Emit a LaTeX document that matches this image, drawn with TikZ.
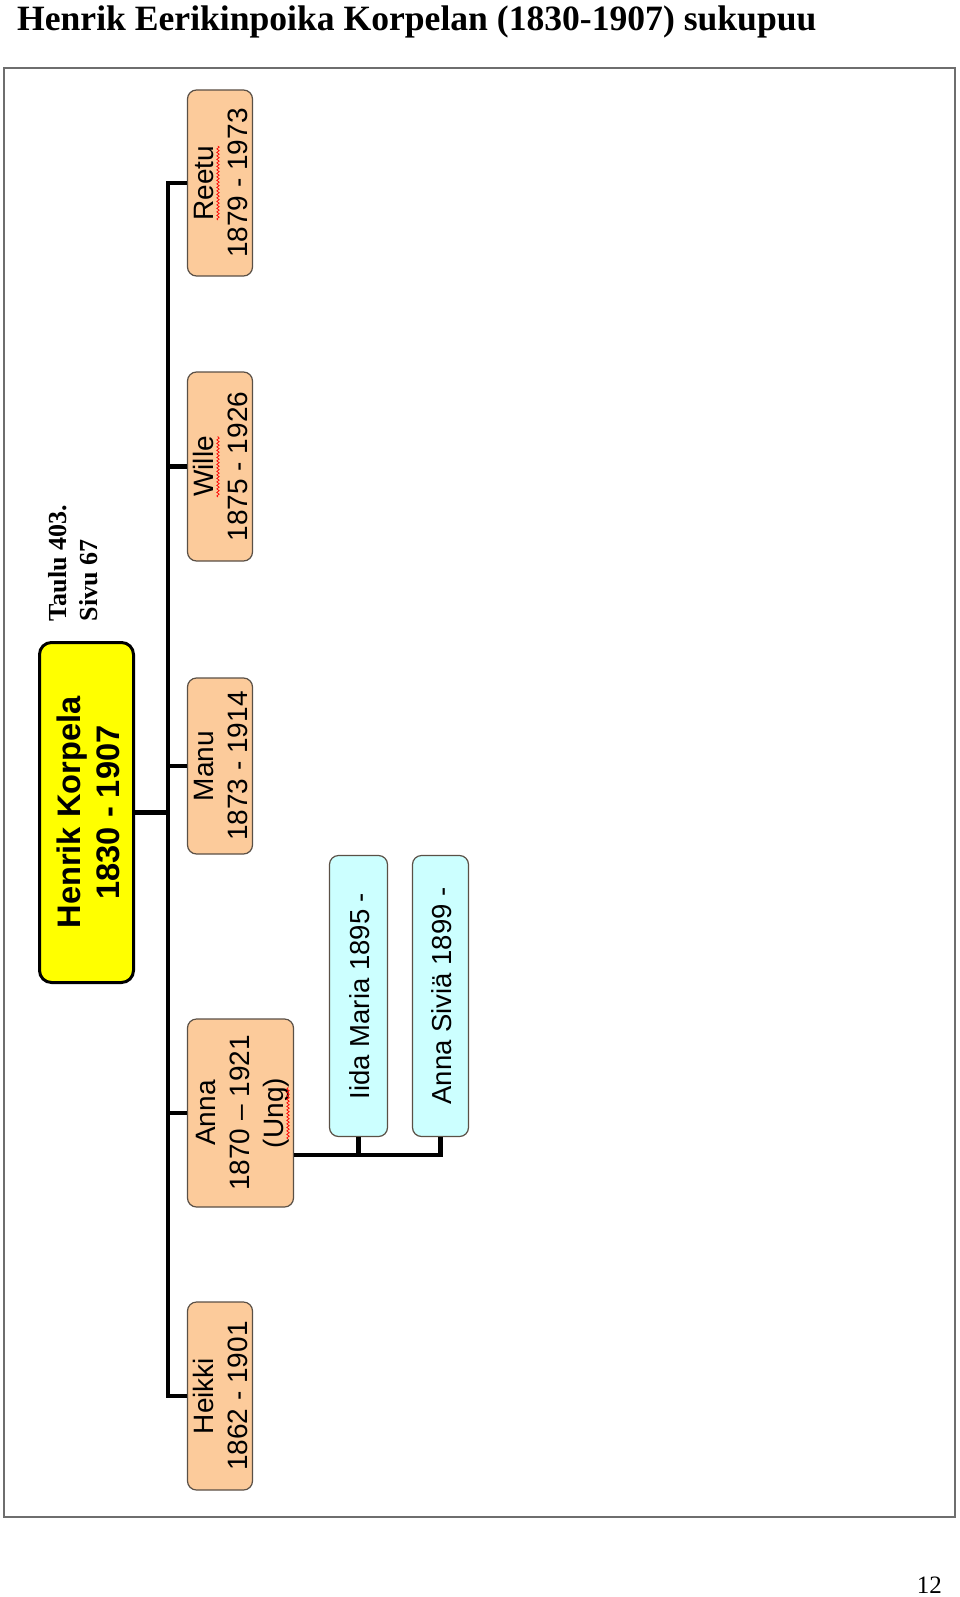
\documentclass[tikz,border=0pt]{standalone}
\usepackage{fontspec}
\setmainfont{Liberation Serif}
\setsansfont{Liberation Sans}
\usepackage{graphicx}
\usetikzlibrary{positioning, decorations.pathmorphing}
\definecolor{kpYellow}{HTML}{FFFF00}
\definecolor{kpPeach}{HTML}{FCCB9B}
\definecolor{kpCyan}{HTML}{CCFFFF}
\definecolor{kpEdge}{HTML}{5A5046}
\definecolor{kpFrame}{HTML}{6E6E6E}
\newcommand{\vlines}[2][-7pt]{\rotatebox{90}{\begin{tabular}{@{}c@{}}#2\end{tabular}}\kern#1}
\tikzset{
  link/.style      = {black, line width=4.5pt},
  pageframe/.style = {draw=kpFrame, line width=1.5pt},
  rootbox/.style   = {draw=black, line width=3pt, fill=kpYellow, rounded corners=12pt,
                      minimum width=94pt, minimum height=340pt, inner sep=0pt,
                      font=\sffamily\bfseries\fontsize{32.6}{40}\selectfont},
  kidbox/.style    = {draw=kpEdge, line width=1.2pt, fill=kpPeach, rounded corners=9pt,
                      minimum width=65pt, inner sep=0pt,
                      font=\sffamily\fontsize{28}{34}\selectfont},
  grandbox/.style  = {draw=kpEdge, line width=1.2pt, fill=kpCyan, rounded corners=9pt,
                      minimum height=281pt, inner sep=0pt,
                      font=\sffamily\fontsize{27.5}{33}\selectfont},
  spell/.style     = {red, line width=0.7pt, decorate,
                      decoration={snake, amplitude=1.2pt, segment length=3.5pt}},
}
\begin{document}
\begin{tikzpicture}[x=1pt, y=-1pt]
  \useasboundingbox (0,0) rectangle (960,1597);
  \node[anchor=base west, inner sep=0pt, font=\bfseries\fontsize{35.6}{40}\selectfont] (title)
    at (17,31) {Henrik Eerikinpoika Korpelan (1830-1907) sukupuu};
  \draw[pageframe] (4,68) rectangle (955,1517);

  \node[font=\bfseries\fontsize{26}{31}\selectfont] (taulu) at (76,563)
    {\rotatebox{90}{\begin{tabular}{@{}l@{}}Taulu 403.\\Sivu 67\end{tabular}}};

  \node[rootbox] (henrik) at (86.5,812.5) {\vlines[-11pt]{Henrik Korpela\\1830 - 1907}};
  \node[kidbox, minimum height=186pt] (reetu) at (220,183) {\vlines{Reetu\\1879 - 1973}};
  \node[kidbox, minimum height=189pt] (wille) at (220,466.5) {\vlines{Wille\\1875 - 1926}};
  \node[kidbox, minimum height=176pt] (manu) at (220,766) {\vlines{Manu\\1873 - 1914}};
  \node[kidbox, minimum width=106pt, minimum height=188pt] (anna) at (240.5,1113)
    {\vlines[-4pt]{Anna\\1870 – 1921\\(Ung)}};
  \node[kidbox, minimum height=188pt] (heikki) at (220,1396) {\vlines{Heikki\\1862 - 1901}};
  \node[grandbox, minimum width=58pt] (iida) at (358.5,996) {\vlines[-9pt]{Iida Maria 1895 -}};
  \node[grandbox, minimum width=56pt] (sivia) at (440.5,996) {\vlines[-9pt]{Anna Siviä 1899 -}};

  \coordinate (trunk) at (168,0);
  \draw[link] (henrik.east) -- (henrik.east -| trunk);
  \draw[link] (reetu.west) -- (reetu.west -| trunk) -- (heikki.west -| trunk) -- (heikki.west);
  \draw[link] (wille.west -| trunk) -- (wille.west);
  \draw[link] (manu.west -| trunk) -- (manu.west);
  \draw[link] (anna.west -| trunk) -- (anna.west);
  \coordinate (annakids) at ([yshift=-42pt]anna.east);
  \draw[link] (annakids) -| (sivia.south);
  \draw[link] (iida.south) -- (iida.south |- annakids);

  \draw[spell] (218,220) -- (218,146);
  \draw[spell] (218,497) -- (218,436);
  \draw[spell] (288,1139) -- (288,1087);

  \node[anchor=base east, inner sep=0pt, font=\fontsize{25}{30}\selectfont] (pagenum)
    at (942,1593) {12};
\end{tikzpicture}
\end{document}
